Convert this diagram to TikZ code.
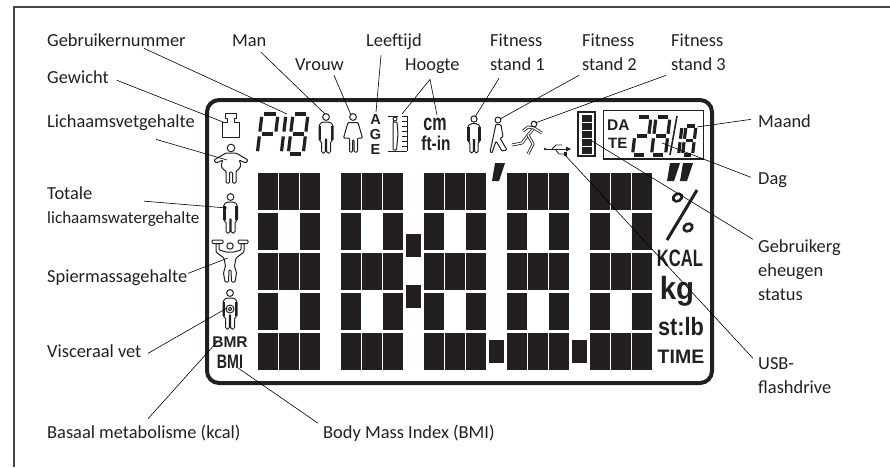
\documentclass[tikz,border=0pt]{standalone}
\usepackage{fontspec}
\setmainfont{Carlito}
\setsansfont{Liberation Sans}
\usepackage{xcolor}
\usepackage{tikz}
\usetikzlibrary{arrows.meta, calc}
\definecolor{mydark}{RGB}{35,31,32}
\definecolor{myframe}{RGB}{70,70,70}
\tikzset{
  lbl/.style={anchor=base west, inner sep=0pt, align=left, text=mydark,
    font=\fontsize{18.4}{24}\selectfont},
  lcdtxt/.style={inner sep=0pt, text=mydark, anchor=base, font=\sffamily\bfseries},
  leader/.style={draw=black, line width=0.6pt},
  lcdblock/.style={fill=mydark},
  lcdseg/.style={draw=mydark, line width=3.2pt},
  iconline/.style={draw=mydark, line width=1pt, fill=white, line join=round},
  limb/.style={draw=mydark, line width=0.8pt, double=white, double distance=1.3pt, line join=round},
  sega/.style={insert path={(.14,0) -- (.86,0)}},
  segg/.style={insert path={(.14,.5) -- (.86,.5)}},
  segd/.style={insert path={(.14,1) -- (.86,1)}},
  segf/.style={insert path={(0,.07) -- (0,.44)}},
  segb/.style={insert path={(1,.07) -- (1,.44)}},
  sege/.style={insert path={(0,.56) -- (0,.93)}},
  segc/.style={insert path={(1,.56) -- (1,.93)}},
  manicon/.pic={
    \draw[iconline] (0,0) circle[radius=3.4];
    \draw[iconline, rounded corners=1.5pt] (-7,24) -- (-7,8) -- (-4,5) -- (4,5) -- (7,8) -- (7,24)
      -- (4.5,24) -- (4.5,36) -- (0.7,36) -- (0.7,22) -- (-0.7,22) -- (-0.7,36) -- (-4.5,36) -- (-4.5,24) -- cycle;
    \fill[mydark] (-7.4,9) rectangle (-4.6,23);
    \fill[mydark] (4.6,9) rectangle (7.4,23);
  }
}
\newcommand{\segdigit}[5]{%
  \begin{scope}[shift={(#1,#2)}, xslant=0.12, x=#3pt, y=-#4pt]
    \foreach \s in {#5} {\draw[lcdseg, seg\s];}
  \end{scope}}

\begin{document}
\begin{tikzpicture}[x=1pt, y=-1pt]
  \useasboundingbox (0,0) rectangle (890,467);

  % Outer frame
  \draw[myframe, line width=1.1pt] (14,467) -- (14,7) -- (890,7);

  % Display outline
  \draw[mydark, line width=4pt, rounded corners=12pt] (207,100) rectangle (712,383);

  % Big digits
  \foreach \px in {258,341,424,507,590} {
    \foreach \py in {173,253,333} \foreach \dx in {0,21,42}
      \fill[lcdblock] (\px+\dx,\py) rectangle +(20,37);
    \foreach \py in {213,293} \foreach \dx in {0,42}
      \fill[lcdblock] (\px+\dx,\py) rectangle +(20,37);
  }
  \foreach \px/\py in {406/234,406/285,489/340,572/340}
    \fill[lcdblock] (\px,\py) rectangle +(15,23);

  % Primes
  \fill[mydark] (495,163) -- (505,163) -- (499,181) -- (492,181) -- cycle;
  \fill[mydark] (670,163) -- (680,163) -- (674,181) -- (667,181) -- cycle;
  \fill[mydark] (683,163) -- (693,163) -- (687,181) -- (680,181) -- cycle;

  % Percent sign
  \draw[mydark, line width=3pt] (697,190) -- (667,240);
  \draw[mydark, line width=2.6pt, shift={(677.5,197.5)}, rotate=30] (0,0) ellipse (4.6 and 3.6);
  \draw[mydark, line width=2.6pt, shift={(688,227.5)}, rotate=30] (0,0) ellipse (4.6 and 3.6);

  % Units
  \node[lcdtxt, font=\sffamily\bfseries\fontsize{23.7}{24}\selectfont, xscale=0.7] (kcal) at (680,266) {KCAL};
  \node[lcdtxt, font=\sffamily\bfseries\fontsize{32}{32}\selectfont, xscale=0.92] (kg) at (677,299) {kg};
  \node[lcdtxt, font=\sffamily\bfseries\fontsize{25}{25}\selectfont, xscale=0.87] (stlb) at (681,335) {st:lb};
  \node[lcdtxt, font=\sffamily\bfseries\fontsize{19.5}{20}\selectfont] (timeunit) at (681,363) {TIME};
  \node[lcdtxt, font=\sffamily\bfseries\fontsize{15.5}{16}\selectfont] (bmr) at (230,347) {BMR};
  \node[lcdtxt, font=\sffamily\bfseries\fontsize{19.5}{20}\selectfont, xscale=0.73] (bmi) at (230,368) {BMI};

  % Top row symbols
  \draw[iconline] (222,122) -- (227,122) -- (227,118) -- (225,118) -- (225,113) -- (236,113) -- (236,118)
    -- (234,118) -- (234,122) -- (239,122) -- (239,137) -- (222,137) -- cycle;
  \segdigit{262}{114}{16}{40}{a,b,f,g,e}
  \segdigit{270}{114}{16}{40}{b,c}
  \segdigit{293}{114}{15}{40}{a,b,c,d,e,f,g}
  \pic at (326,117) {manicon};

  % Woman
  \draw[iconline] (353,117) circle[radius=3.4];
  \draw[iconline, rounded corners=1pt] (348,122.5) -- (358,122.5) -- (362.5,138) -- (357.5,138) -- (357.5,152) -- (354,152)
    -- (354,140) -- (352.5,140) -- (352.5,152) -- (349.5,152) -- (349.5,138) -- (343.5,138) -- cycle;

  \node[lcdtxt, font=\sffamily\bfseries\fontsize{14.5}{15}\selectfont, align=center, anchor=north] (age) at (375.5,114) {A\\[0pt]G\\[0pt]E};

  % Height scale
  \draw[mydark, line width=0.9pt] (398,116) -- (388,116);
  \draw[mydark, line width=0.9pt] (388,151) -- (407,151) (407,116) -- (407,151);
  \draw[mydark, line width=0.9pt] (393,116) -- (393,150);
  \foreach \y in {116,121,...,146} \draw[mydark, line width=0.9pt] (402,\y) -- (407,\y);
  \draw[iconline] (395,119) circle[radius=2];
  \draw[iconline, rounded corners=1pt] (393,122) -- (397,122) -- (398,134) -- (396.5,150) -- (393,150) -- cycle;
  \node[lcdtxt, font=\sffamily\bfseries\fontsize{23}{24}\selectfont, xscale=0.7] (cm) at (435,130) {cm};
  \node[lcdtxt, font=\sffamily\bfseries\fontsize{20}{20}\selectfont, xscale=0.77] (ftin) at (436,150) {ft-in};

  % Fitness figures
  \pic[xscale=0.9, yscale=0.94] at (474,119) {manicon};
  \draw[iconline] (498,120) circle[radius=3];
  \draw[iconline, rounded corners=1pt] (496,124) -- (501,125) -- (503,137) -- (500,138) -- (507,150) -- (502,151) -- (496,141)
    -- (492,153) -- (490,152) -- (493,138) -- cycle;
  \draw[limb] (512,145) -- (522,143) -- (528,135) -- (534,128) -- (542,133);
  \draw[limb] (528,135) -- (533,144) -- (528,154);
  \draw[limb] (534,128) -- (528,127) -- (523,131);
  \draw[iconline] (534,124) circle[radius=2.8];

  % Usb symbol
  \fill[mydark] (545,149) circle[radius=1.4];
  \draw[mydark, line width=0.8pt] (545,149) -- (566,149);
  \fill[mydark] (566,146.5) -- (571,149) -- (566,151.5) -- cycle;
  \draw[mydark, line width=0.8pt] (552,149) -- (556,145) -- (562,145);
  \draw[mydark, line width=0.8pt] (555,149) -- (559,154) -- (565,154);
  \fill[mydark] (564,152) rectangle (567,156);

  % Memory bar
  \draw[mydark, line width=2pt] (578,112) rectangle (595,156);
  \foreach \y in {115,123,131,139,147} \fill[mydark] (582,\y) rectangle (592,\y+6.5);

  % Date box
  \draw[mydark, line width=1.6pt] (603.5,110.5) rectangle (703.5,159);
  \node[lcdtxt, font=\sffamily\bfseries\fontsize{15.5}{16}\selectfont, anchor=base west] (da) at (607,130) {DA};
  \node[lcdtxt, font=\sffamily\bfseries\fontsize{15}{16}\selectfont, anchor=base west] (te) at (608,148) {TE};
  \segdigit{637}{117}{14}{38}{a,b,g,e,d}
  \segdigit{656}{117}{14}{38}{a,b,c,d,e,f,g}
  \draw[mydark, line width=1.6pt] (677,116) -- (670,155);
  \segdigit{672}{126}{10}{29}{b,c}
  \segdigit{686}{126}{10}{29}{a,b,c,d,e,f,g}

  % Left column figures
  \draw[iconline] (231,148) circle[radius=3.8];
  \draw[iconline, rounded corners=1pt] (226,153) -- (214,160) -- (216,163) -- (223,160) .. controls (220,166) and (222,169) .. (226,171)
    -- (226,183) -- (229.5,183) -- (229.5,172) -- (232.5,172) -- (232.5,183) -- (236,183) -- (236,171)
    .. controls (240,169) and (242,165) .. (239,160) -- (246,163) -- (248,160) -- (236,153) -- cycle;
  \pic at (230.5,197) {manicon};

  \draw[iconline, rounded corners=1pt] (212,240) rectangle (223,243.5);
  \draw[iconline, rounded corners=1pt] (238,240) rectangle (248,243.5);
  \draw[iconline] (230,246) circle[radius=3.2];
  \draw[iconline, rounded corners=1pt] (219,243.5) -- (219,250) -- (226,252) -- (234,252) -- (241,250) -- (241,243.5) -- (244,243.5)
    -- (244,252) -- (236,258) -- (234.5,266) -- (236.5,273) -- (235,282) -- (231.5,282) -- (231,270) -- (229,270)
    -- (228.5,282) -- (225,282) -- (223.5,273) -- (225.5,266) -- (224,258) -- (216,252) -- (216,243.5) -- cycle;

  \pic at (230,293) {manicon};
  \draw[iconline] (230,309) circle[radius=4];
  \draw[iconline] (230,309) circle[radius=1.8];

  % Labels
  \node[lbl] (lblgebruiker) at (47,46) {Gebruikernummer};
  \node[lbl] (lblman) at (232,46) {Man};
  \node[lbl] (lblvrouw) at (295,70) {Vrouw};
  \node[lbl] (lblleeftijd) at (366,46) {Leeftijd};
  \node[lbl] (lblhoogte) at (405,70) {Hoogte};
  \node[lbl] (lblfita) at (490,70) {Fitness\\stand 1};
  \node[lbl] (lblfitb) at (582,70) {Fitness\\stand 2};
  \node[lbl] (lblfitc) at (671,70) {Fitness\\stand 3};
  \node[lbl] (lblgewicht) at (47,83) {Gewicht};
  \node[lbl] (lblvet) at (47,127) {Lichaamsvetgehalte};
  \node[lbl] (lbltotale) at (47,223) {Totale\\{\fontsize{17.1}{24}\selectfont lichaamswatergehalte}};
  \node[lbl] (lblspier) at (47,282) {Spiermassagehalte};
  \node[lbl] (lblvisc) at (47,357) {Visceraal vet};
  \node[lbl] (lblbasaal) at (47,438) {Basaal metabolisme (kcal)};
  \node[lbl] (lblbody) at (323,438) {Body Mass Index (BMI)};
  \node[lbl] (lblmaand) at (758,127) {Maand};
  \node[lbl] (lbldag) at (758,184) {Dag};
  \node[lbl] (lblgeheugen) at (758,300) {Gebruikerg\\eheugen\\status};
  \node[lbl] (lblusb) at (758,393) {USB-\\flashdrive};

  % Leader ends
  \coordinate (tipgebruiker) at (287,114);
  \coordinate (tipman) at (325,114);
  \coordinate (tipvrouw) at (351,115);
  \coordinate (tipleeftijd) at (376,112);
  \coordinate (tiphoogtea) at (402,114);
  \coordinate (tiphoogteb) at (437,115);
  \coordinate (tipfita) at (475,117);
  \coordinate (tipfitb) at (500,119);
  \coordinate (tipfitc) at (535,123);
  \coordinate (tipgewicht) at (223,122);
  \coordinate (tipvet) at (227,160);
  \coordinate (tiptotale) at (227,208);
  \coordinate (tipspier) at (228,258);
  \coordinate (tipvisc) at (227,308);
  \coordinate (tipbasaal) at (217,342);
  \coordinate (tipbody) at (238,368);
  \coordinate (tipmaand) at (697,127);
  \coordinate (tipdag) at (662,143);
  \coordinate (tipgeheugen) at (592,141);
  \coordinate (tipusb) at (565,155);

  % Leaders
  \draw[leader] ([shift={(97,2)}]lblgebruiker.south west) -- (tipgebruiker);
  \draw[leader] ([shift={(29,6)}]lblman.south west) -- (tipman);
  \draw[leader] ([shift={(39,5)}]lblvrouw.south west) -- (tipvrouw);
  \draw[leader] ([shift={(15,6)}]lblleeftijd.south west) -- (tipleeftijd);
  \draw[leader] (tiphoogtea) -- ([shift={(25,6)}]lblhoogte.south west) -- (tiphoogteb);
  \draw[leader] ([shift={(9,8)}]lblfita.south west) -- (tipfita);
  \draw[leader] ([shift={(-3,5)}]lblfitb.south west) -- (tipfitb);
  \draw[leader] ([shift={(-5,5)}]lblfitc.south west) -- (tipfitc);
  \draw[leader] ([shift={(70,-3)}]lblgewicht.south west) -- (tipgewicht);
  \draw[leader] ([shift={(109,9)}]lblvet.south west) -- (tipvet);
  \draw[leader] ([shift={(97,-25)}]lbltotale.south west) -- (tiptotale);
  \draw[leader] ([shift={(141,-12)}]lblspier.south west) -- (tipspier);
  \draw[leader] ([shift={(101,-4)}]lblvisc.south west) -- (tipvisc);
  \draw[leader] ([shift={(101,-22)}]lblbasaal.south west) -- (tipbasaal);
  \draw[leader] ([shift={(-5,-18)}]lblbody.south west) -- (tipbody);
  \draw[leader] ([shift={(-7,-8)}]lblmaand.south west) -- (tipmaand);
  \draw[leader] ([shift={(-7,-10)}]lbldag.south west) -- (tipdag);
  \draw[leader] ([shift={(-5,-61)}]lblgeheugen.south west) -- (tipgeheugen);
  \draw[leader] ([shift={(-5,-35)}]lblusb.south west) -- (tipusb);
\end{tikzpicture}
\end{document}
